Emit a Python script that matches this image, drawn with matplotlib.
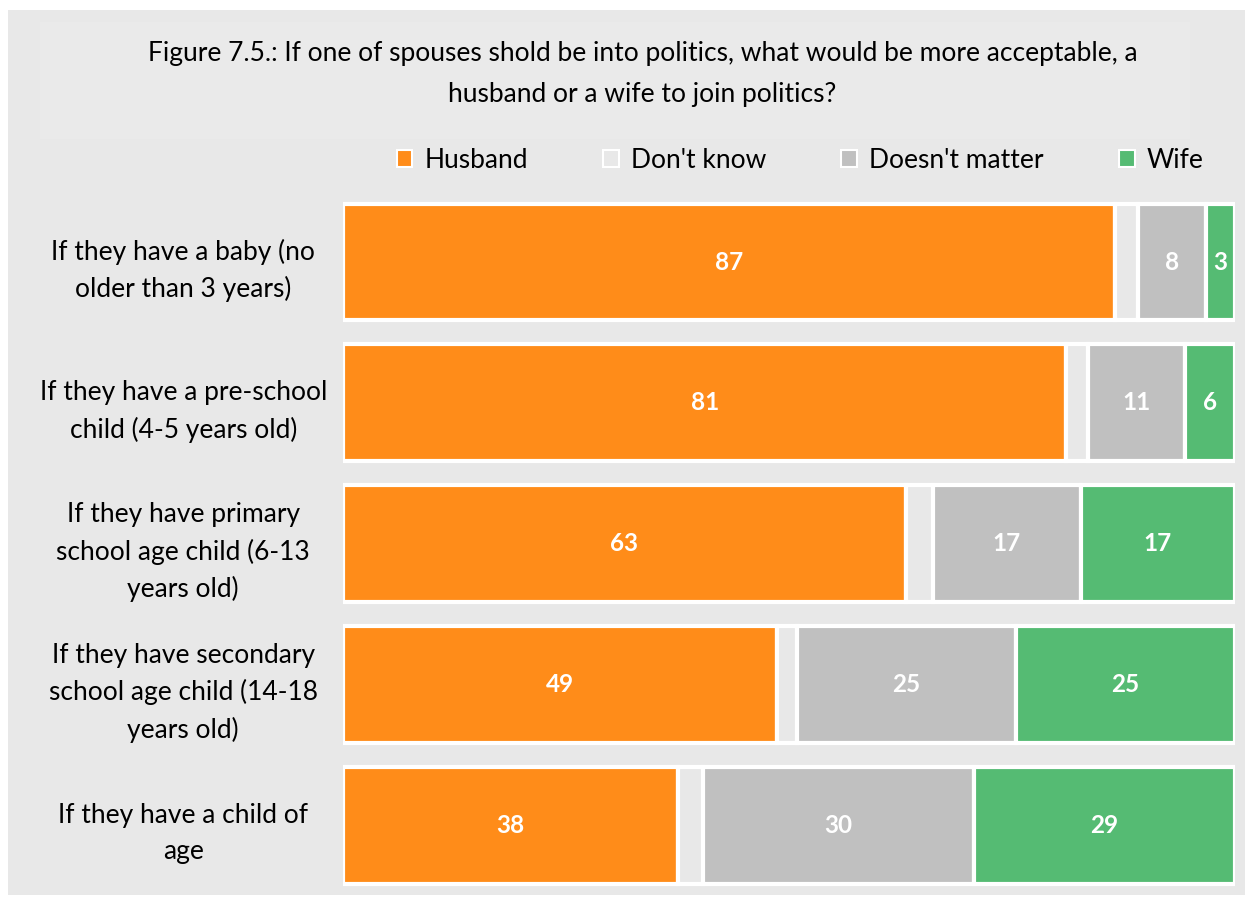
import matplotlib
matplotlib.use("Agg")
import matplotlib.pyplot as plt
from matplotlib.patches import Patch, Rectangle

plt.rcParams['font.family'] = ['Lato', 'DejaVu Sans']

categories = [
    "If they have a baby (no\nolder than 3 years)",
    "If they have a pre-school\nchild (4-5 years old)",
    "If they have primary\nschool age child (6-13\nyears old)",
    "If they have secondary\nschool age child (14-18\nyears old)",
    "If they have a child of\nage",
]
series_names = ["Husband", "Don't know", "Doesn't matter", "Wife"]
husband = [86.6, 81.1, 63.1, 48.6, 37.6]
dont_know = [2.5, 2.4, 3.0, 2.3, 2.8]
doesnt_matter = [7.6, 10.9, 16.6, 24.55, 30.3]
wife = [3.3, 5.6, 17.3, 24.55, 29.3]
colors = ["#FF8C19", "#E8E8E8", "#C0C0C0", "#55BB73"]
show_labels = [True, False, True, True]

bg = "#E8E8E8"
fig = plt.figure(figsize=(12.5, 8.97), dpi=100, facecolor="white")
fig.patches.append(Rectangle((0.006, 0.002), 0.99, 0.987, transform=fig.transFigure,
                             facecolor=bg, edgecolor="none", zorder=-2))
fig.patches.append(Rectangle((0.032, 0.845), 0.92, 0.13, transform=fig.transFigure,
                             facecolor="#EAEAEA", edgecolor="none", zorder=-1))

ax = fig.add_axes([0.2744, 0.0012, 0.7136, 0.7852])
ax.set_facecolor(bg)
ax.patch.set_alpha(0)

data = [husband, dont_know, doesnt_matter, wife]
y = list(range(len(categories)))
left = [0.0] * len(categories)
for name, vals, col, lab in zip(series_names, data, colors, show_labels):
    bars = ax.barh(y, vals, left=left, height=0.83, color=col, edgecolor="white",
                   linewidth=3, label=name)
    if lab:
        ax.bar_label(bars, labels=[f"{int(v + 0.5):d}" for v in vals], label_type="center",
                     color="white", fontsize=17.5, fontweight="bold")
    left = [a + b for a, b in zip(left, vals)]

ax.set_xlim(0, 100)
ax.set_ylim(4.5, -0.5)
ax.set_yticks(y)
ax.set_yticklabels(categories, fontsize=19, ha="center", linespacing=1.55)
ax.tick_params(axis="y", length=0, pad=115)
ax.set_xticks([])
for s in ax.spines.values():
    s.set_visible(False)

fig.text(0.514, 0.918, "Figure 7.5.: If one of spouses shold be into politics, what would be more acceptable, a\nhusband or a wife to join politics?",
         ha="center", va="center", fontsize=19, linespacing=1.8)

handles = [Patch(facecolor=c, edgecolor="white", linewidth=1.5) for c in colors]
fig.legend(handles, series_names, loc="center", bbox_to_anchor=(0.64, 0.821), ncol=4,
           frameon=False, fontsize=19, handlelength=0.6, handleheight=0.6,
           handletextpad=0.45, columnspacing=2.85)

fig.savefig("out.png", dpi=100, facecolor="white")
